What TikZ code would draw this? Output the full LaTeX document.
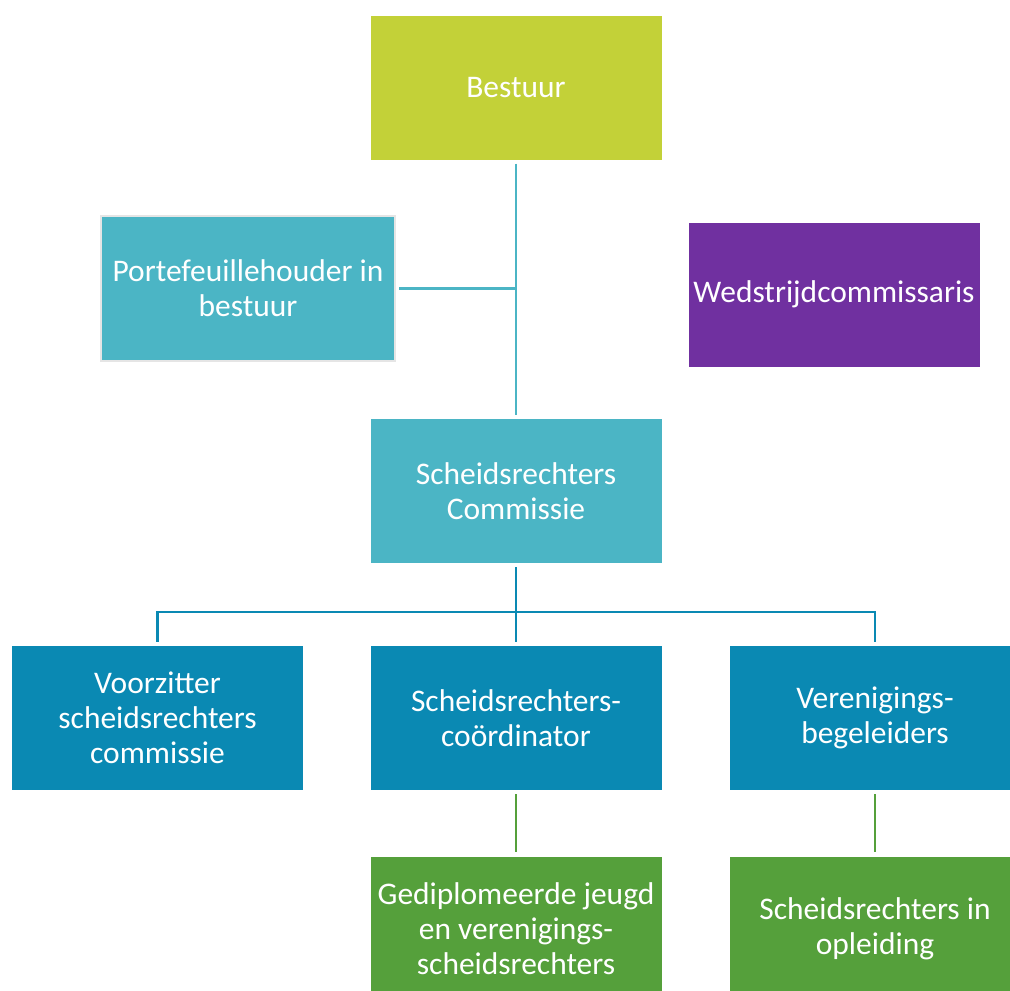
\documentclass[tikz,border=0pt]{standalone}
\usepackage{fontspec}
\setmainfont{Carlito}
\usepackage{tikz}
\definecolor{lime}{HTML}{C3D138}
\definecolor{teal}{HTML}{4BB5C5}
\definecolor{sea}{HTML}{0A89B3}
\definecolor{paars}{HTML}{7030A0}
\definecolor{gras}{HTML}{55A03B}
\begin{document}
\begin{tikzpicture}[x=0.75pt,y=-0.75pt,
    box/.style={minimum width=219pt,minimum height=108.75pt,inner sep=2pt,
      text=white,align=center,font=\fontsize{23.6}{26.3}\selectfont,draw=white,line width=0.6pt},
    link/.style={line width=2pt,shorten <=2.5pt,shorten >=2.5pt}]
                \useasboundingbox (0,0) rectangle (1010,991);
                \node [box,fill=lime] (bestuur) at (516,87.5) {Bestuur};
                \node [box,fill=teal,draw=black!10,line width=1.6pt,minimum width=220.5pt,minimum height=108.75pt] (portef) at (248,288.5) {Portefeuillehouder in\\bestuur};
                \node [box,fill=paars] (wedstrijd) at (834,294.5) {Wedstrijdcommissaris};
                \node [box,fill=teal] (commissie) at (516,491) {Scheidsrechters\\Commissie};
                \node [box,fill=sea] (voorzitter) at (157.5,718) {Voorzitter\\scheidsrechters\\commissie};
                \node [box,fill=sea] (coordinator) at (516,718) {Scheidsrechters-\\coördinator};
                \node [box,fill=sea] (begeleiders) at (875,718) {Verenigings-\\begeleiders};
                \node [box,fill=gras] (gediplomeerd) at (516,928.5) {Gediplomeerde jeugd\\en verenigings-\\scheidsrechters};
                \node [box,fill=gras] (opleiding) at (875,928.5) {Scheidsrechters in\\opleiding};
                % bestuur tak
                \draw [link,teal] (bestuur) -- (commissie);
                \draw [link,teal,shorten >=0pt] (portef.east) -- (portef.east -| bestuur.south);
                % commissie tak
                \coordinate (splits) at (516,612);
                \draw [link,sea,shorten >=0pt] (commissie) -- (splits);
                \draw [link,sea,shorten <=0pt] (splits) -- (coordinator);
                \draw [link,sea] (voorzitter.north) |- (splits) -| (begeleiders.north);
                % scheidsrechters
                \draw [link,gras,line width=1.6pt] (coordinator) -- (gediplomeerd);
                \draw [link,gras,line width=1.6pt] (begeleiders) -- (opleiding);
\end{tikzpicture}
\end{document}
